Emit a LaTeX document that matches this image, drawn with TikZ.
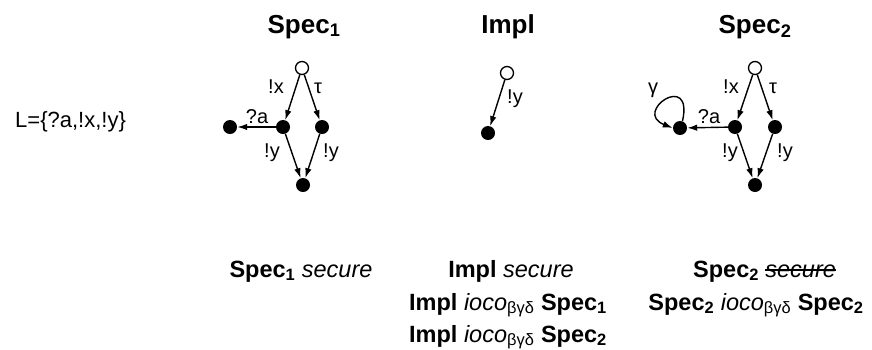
\documentclass[tikz,border=0pt]{standalone}
\usepackage{fontspec}
\setmainfont{Liberation Sans}
\usetikzlibrary{arrows.meta}
\begin{document}
\begin{tikzpicture}[x=1pt,y=-1pt,
  ost/.style={circle,draw,fill=white,line width=1.3pt,minimum size=13pt,inner sep=0pt},
  fst/.style={circle,fill=black,minimum size=14pt,inner sep=0pt},
  tr/.style={-{Latex[length=10pt,width=6.5pt]},line width=1.4pt},
  lab/.style={font=\fontsize{20}{22}\selectfont,inner sep=0pt,anchor=base},
  ttl/.style={font=\fontsize{26}{28}\selectfont\bfseries,inner sep=0pt,anchor=base},
  txt/.style={font=\fontsize{23.5}{26}\selectfont,inner sep=0pt,anchor=base},
]
\useasboundingbox (0,0) rectangle (872,349);

% left set
\node[font=\fontsize{22}{24}\selectfont,inner sep=0pt,anchor=base west] (L) at (15,127) {L=\{?a,!x,!y\}};

% titles
\node[ttl] (t1) at (304,33) {Spec\textsubscript{1}};
\node[ttl] (t2) at (508,33) {Impl};
\node[ttl] (t3) at (755,33) {Spec\textsubscript{2}};

% Spec1
\node[ost] (a0) at (302,68) {};
\node[fst] (a1) at (283,127) {};
\node[fst] (a2) at (322,127) {};
\node[fst] (a3) at (230,127) {};
\node[fst] (a4) at (303,185) {};
\draw[tr] (a0) -- (a1);
\draw[tr] (a0) -- (a2);
\draw[tr] (a1) -- (a3);
\draw[tr] (a1) -- (a4);
\draw[tr] (a2) -- (a4);
\node[lab] (la1) at (276,93) {!x};
\node[lab] (la2) at (318,93) {τ};
\node[lab] (la3) at (257,123) {?a};
\node[lab] (la4) at (272,157) {!y};
\node[lab] (la5) at (331,157) {!y};

% Impl
\node[ost] (b0) at (507,73) {};
\node[fst] (b1) at (488,133) {};
\draw[tr] (b0) -- (b1);
\node[lab] (lb1) at (515,103) {!y};

% Spec2
\node[ost] (c0) at (755,68) {};
\node[fst] (c1) at (735,127) {};
\node[fst] (c2) at (775,127) {};
\node[fst] (c3) at (680,128) {};
\node[fst] (c4) at (755,185) {};
\draw[tr] (c0) -- (c1);
\draw[tr] (c0) -- (c2);
\draw[tr] (c1) -- (c3);
\draw[tr] (c1) -- (c4);
\draw[tr] (c2) -- (c4);
\draw[tr] (c3.70) .. controls (694,70) and (632,112) .. (c3.180);
\node[lab] (lc0) at (653,93) {γ};
\node[lab] (lc1) at (731,93) {!x};
\node[lab] (lc2) at (773,93) {τ};
\node[lab] (lc3) at (709,123) {?a};
\node[lab] (lc4) at (730,157) {!y};
\node[lab] (lc5) at (785,157) {!y};

% bottom statements
\node[txt] (r1) at (301,277) {\textbf{Spec\textsubscript{1}} \textit{secure}};
\node[txt] (r2) at (511,277) {\textbf{Impl} \textit{secure}};
\node[txt] (r3) at (508,310) {\textbf{Impl} \textit{ioco}\textsubscript{βγδ} \textbf{Spec\textsubscript{1}}};
\node[txt] (r4) at (508,342) {\textbf{Impl} \textit{ioco}\textsubscript{βγδ} \textbf{Spec\textsubscript{2}}};
\node[txt,anchor=base west] (r6a) at (693,277) {\textbf{Spec\textsubscript{2}}};
\node[txt,anchor=base west] (r6b) at ([xshift=6pt]r6a.base east) {\textit{secure}};
\coordinate (sy) at (0,270);
\draw[line width=1.2pt] (r6b.west |- sy) -- (r6b.east |- sy);
\node[txt] (r5) at (756,310) {\textbf{Spec\textsubscript{2}} \textit{ioco}\textsubscript{βγδ} \textbf{Spec\textsubscript{2}}};
\end{tikzpicture}
\end{document}
